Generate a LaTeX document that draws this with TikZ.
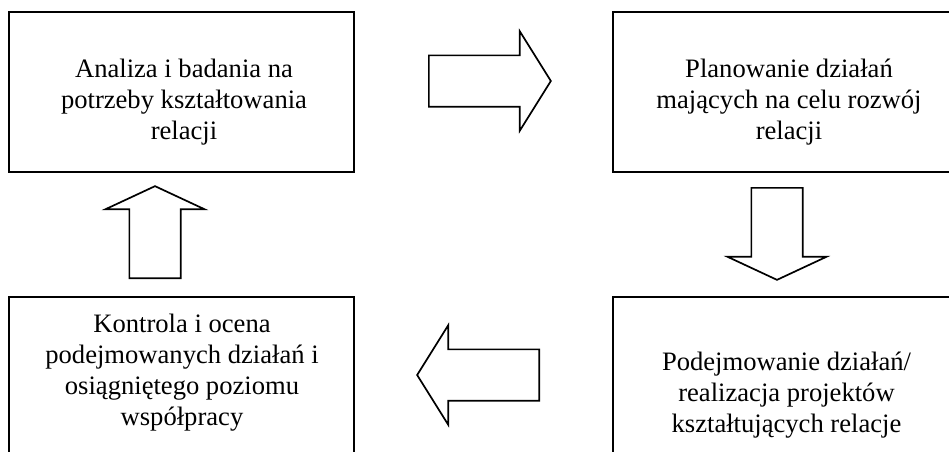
\documentclass[tikz,border=0pt]{standalone}
\usepackage{fontspec}
\setmainfont{Liberation Serif}
\usetikzlibrary{shapes}

\begin{document}
\begin{tikzpicture}[x=0.5pt, y=-0.5pt,
    stage/.style={draw=black, line width=1pt, minimum width=172.5pt, minimum height=80pt, inner sep=0pt},
    stagetext/.style={anchor=base, align=center, inner sep=0pt, font=\fontsize{13.3}{15.5}\selectfont},
    flowarrow/.style={single arrow, draw=black, line width=0.85pt, inner sep=12.4pt, single arrow head extend=12pt, anchor=tail},
  ]
    % Page area, the right and bottom boxes run past it
    \useasboundingbox (0,0) rectangle (949,451);
    \clip (0,0) rectangle (949,451);

    % Four stages of the cycle
    \node[stage] (ana) at (181.5,92) {};
    \node[stage, minimum width=176pt] (plan) at (789,92) {};
    \node[stage, minimum width=176pt] (real) at (789,377) {};
    \node[stage] (ctrl) at (181.5,377) {};

    % Stage texts, placed by their last baseline
    \node[stagetext] (anatext) at (184,139) {Analiza i badania na\\potrzeby kształtowania\\relacji};
    \node[stagetext] (plantext) at (789,139) {Planowanie działań\\mających na celu rozwój\\relacji};
    \node[stagetext] (realtext) at (786.5,432) {Podejmowanie działań/\\realizacja projektów\\kształtujących relacje};
    \node[stagetext] (ctrltext) at (182,425) {Kontrola i ocena\\podejmowanych działań i\\osiągniętego poziomu\\współpracy};

    % Block arrows between the stages
    \node[flowarrow, minimum height=61pt, single arrow tip angle=116] (toplan) at (428,81) {};
    \node[flowarrow, minimum height=46pt, single arrow tip angle=130, shape border rotate=270] (toreal) at (777,187) {};
    \node[flowarrow, minimum height=61pt, single arrow tip angle=116, shape border rotate=180] (toctrl) at (540,375) {};
    \node[flowarrow, minimum height=46pt, single arrow tip angle=130, shape border rotate=90] (toana) at (155,279) {};
\end{tikzpicture}
\end{document}
